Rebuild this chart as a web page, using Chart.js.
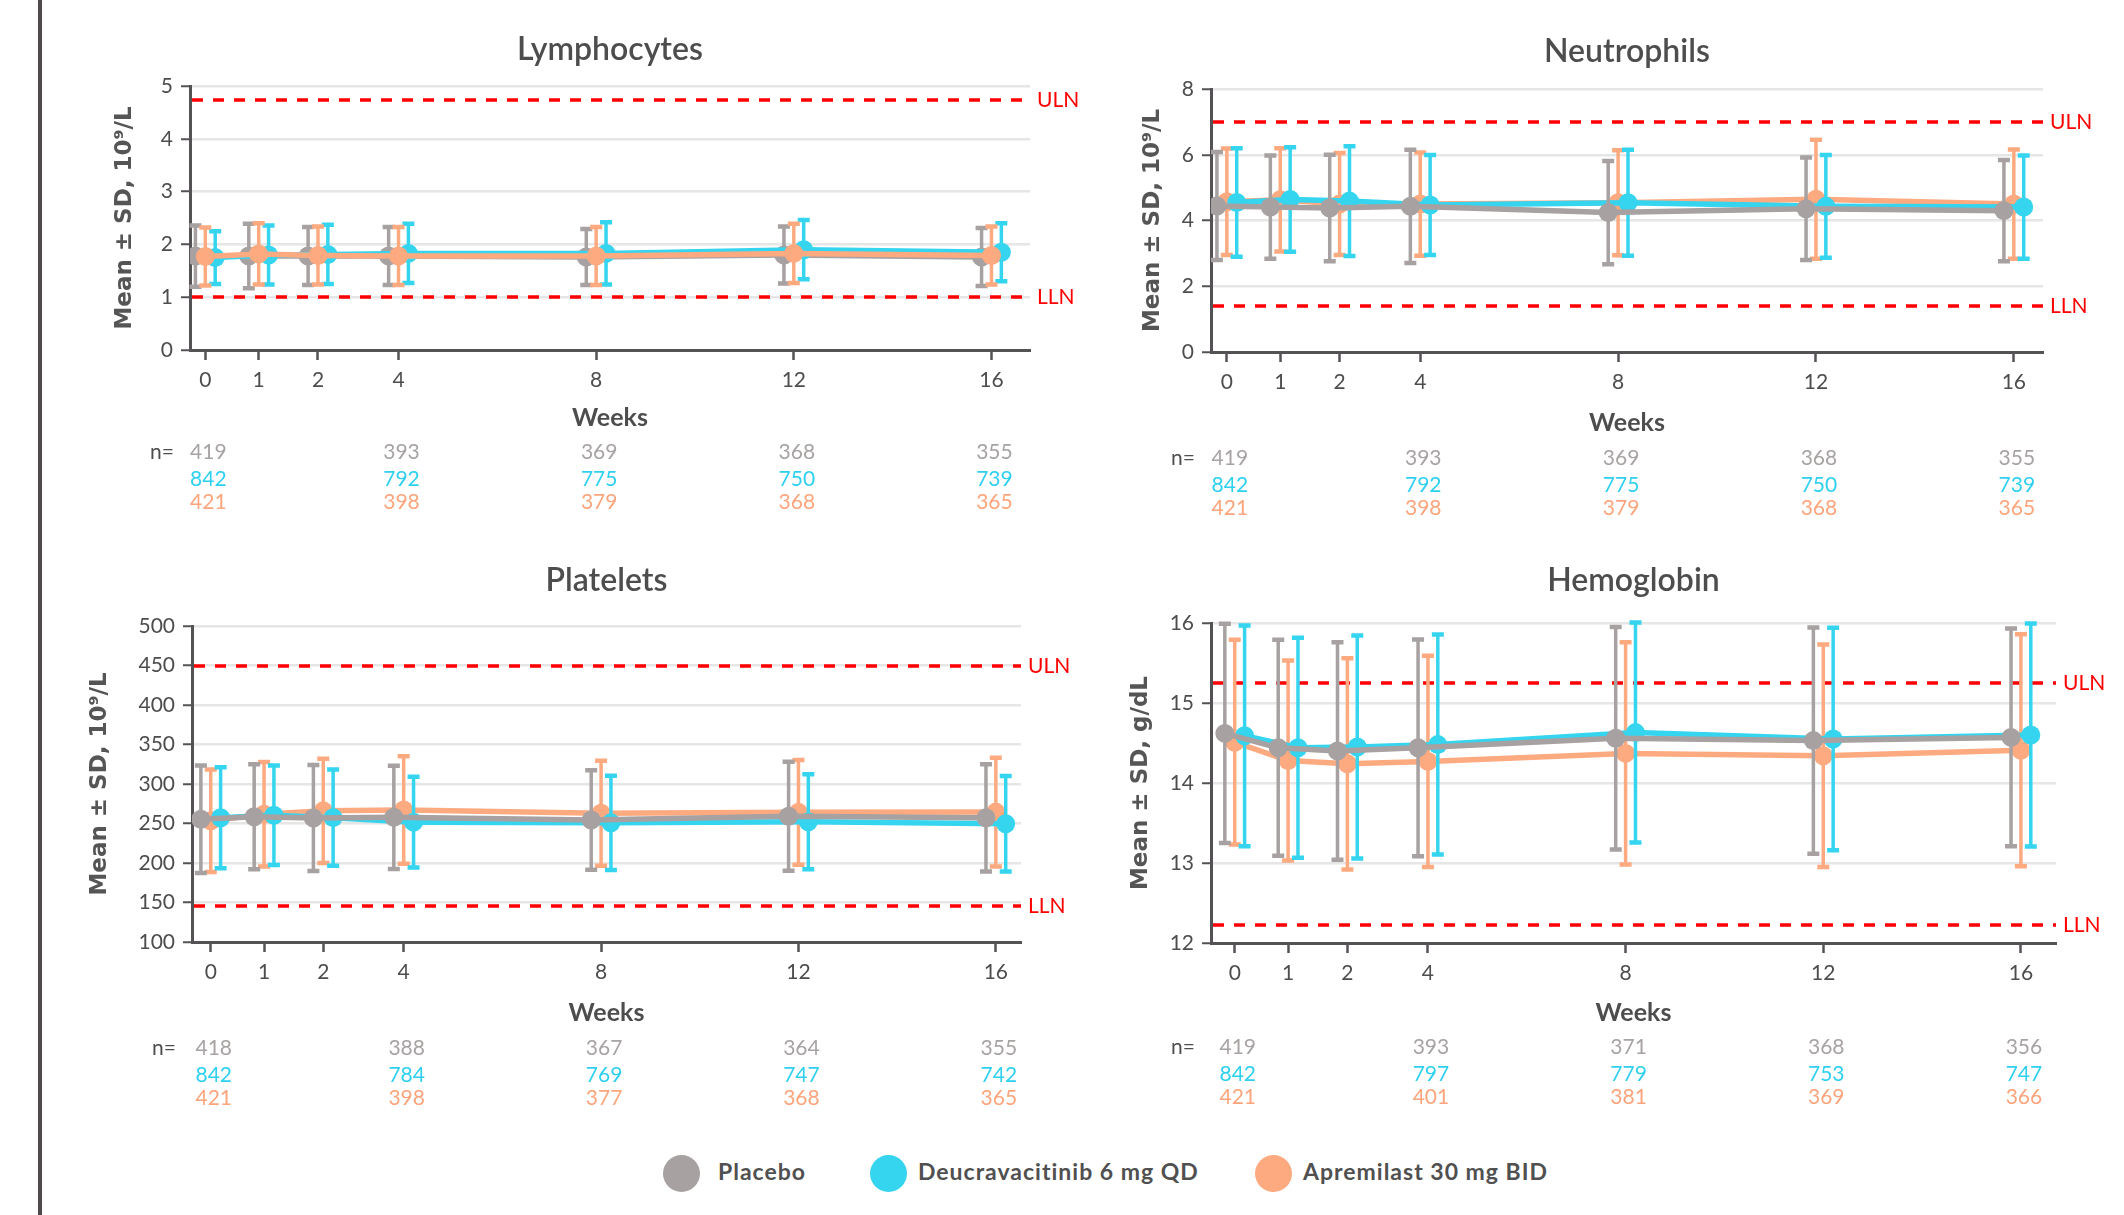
<!DOCTYPE html>
<html>
<head>
<meta charset="utf-8">
<script src="https://cdn.jsdelivr.net/npm/chart.js@4.4.1/dist/chart.umd.min.js"></script>
<style>
  html, body { margin: 0; padding: 0; background: #ffffff; }
  body { width: 2124px; height: 1215px; position: relative; overflow: hidden; font-family: Lato, "Open Sans", sans-serif; }
  .side-rule { position: absolute; left: 38px; top: 0; width: 4px; height: 1215px; background: #4f4a4d; }
  canvas { position: absolute; }
  .legend-dot { position: absolute; width: 37px; height: 37px; border-radius: 50%; }
  .legend-text { position: absolute; line-height: 37px; font: bold 23px Lato, sans-serif; color: #505050; letter-spacing: 1px; white-space: nowrap; }
</style>
</head>
<body>
<div class="side-rule"></div>
<div id="legend"></div>
<script>
// ---- visits ----
const weeks = [0, 1, 2, 4, 8, 12, 16];
// position of each visit along the week axis (early visits spread apart)
const weekPos = [0.09, 1.17, 2.37, 4, 8, 12, 16];
// visits shown in the n= rows
const nVisitIdx = [0, 3, 4, 5, 6];

// ---- treatment groups ----
const groupNames = ['Placebo', 'Deucravacitinib 6 mg QD', 'Apremilast 30 mg BID'];
const groupColors = ['#a7a1a1', '#35d4ef', '#fdaa80'];
const nColors = ['#a8a3a3', '#2fd0ef', '#fca57c'];

// ---- Lymphocytes (10^9/L) ----
const lymPlaceboMean = [1.78, 1.78, 1.78, 1.78, 1.76, 1.80, 1.76];
const lymPlaceboSD   = [0.58, 0.61, 0.55, 0.55, 0.53, 0.54, 0.55];
const lymDeucraMean  = [1.75, 1.80, 1.81, 1.83, 1.83, 1.90, 1.85];
const lymDeucraSD    = [0.50, 0.56, 0.56, 0.56, 0.59, 0.56, 0.55];
const lymApremMean   = [1.77, 1.82, 1.79, 1.78, 1.78, 1.83, 1.79];
const lymApremSD     = [0.55, 0.58, 0.55, 0.55, 0.55, 0.56, 0.55];
const lymN = [[419, 393, 369, 368, 355], [842, 792, 775, 750, 739], [421, 398, 379, 368, 365]];

// ---- Neutrophils (10^9/L) ----
const neuPlaceboMean = [4.44, 4.41, 4.38, 4.43, 4.24, 4.36, 4.30];
const neuPlaceboSD   = [1.64, 1.57, 1.62, 1.72, 1.57, 1.56, 1.54];
const neuDeucraMean  = [4.55, 4.64, 4.59, 4.47, 4.54, 4.43, 4.41];
const neuDeucraSD    = [1.65, 1.59, 1.67, 1.52, 1.61, 1.56, 1.57];
const neuApremMean   = [4.57, 4.63, 4.50, 4.50, 4.54, 4.65, 4.50];
const neuApremSD     = [1.62, 1.57, 1.55, 1.57, 1.60, 1.81, 1.66];
const neuN = [[419, 393, 369, 368, 355], [842, 792, 775, 750, 739], [421, 398, 379, 368, 365]];

// ---- Platelets (10^9/L) ----
const pltPlaceboMean = [255.4, 258.5, 257.0, 257.8, 254.4, 259.2, 257.2];
const pltPlaceboSD   = [67.9, 66.5, 67.0, 65.4, 63.0, 69.0, 67.9];
const pltDeucraMean  = [257.2, 260.5, 257.4, 251.7, 250.8, 252.2, 249.7];
const pltDeucraSD    = [63.9, 63.0, 61.0, 57.5, 59.8, 60.2, 60.4];
const pltApremMean   = [253.5, 261.7, 266.0, 267.0, 263.0, 264.1, 264.4];
const pltApremSD     = [64.8, 66.0, 66.0, 68.0, 66.5, 66.3, 68.8];
const pltN = [[418, 388, 367, 364, 355], [842, 784, 769, 747, 742], [421, 398, 377, 368, 365]];

// ---- Hemoglobin (g/dL) ----
const hgbPlaceboMean = [14.62, 14.44, 14.40, 14.44, 14.56, 14.53, 14.57];
const hgbPlaceboSD   = [1.37, 1.35, 1.36, 1.355, 1.39, 1.415, 1.36];
const hgbDeucraMean  = [14.59, 14.44, 14.45, 14.48, 14.63, 14.55, 14.60];
const hgbDeucraSD    = [1.38, 1.375, 1.395, 1.375, 1.375, 1.39, 1.395];
const hgbApremMean   = [14.51, 14.28, 14.24, 14.27, 14.37, 14.34, 14.41];
const hgbApremSD     = [1.28, 1.25, 1.32, 1.32, 1.39, 1.39, 1.45];
const hgbN = [[419, 393, 371, 368, 356], [842, 797, 779, 753, 747], [421, 401, 381, 369, 366]];

// ---- normal range limits ----
const refLimits = {
  lym: { uln: 4.74, lln: 1.0 },
  neu: { uln: 7.0, lln: 1.4 },
  plt: { uln: 450, lln: 145 },
  hgb: { uln: 15.25, lln: 12.23 }
};

// ---- panel contents ----
const panels = [
  { key: 'lym', title: 'Lymphocytes', yTitle: 'Mean \u00b1 SD, 10\u2079/L', yMin: 0, yMax: 5, yStep: 1,
    mean: [lymPlaceboMean, lymDeucraMean, lymApremMean], sd: [lymPlaceboSD, lymDeucraSD, lymApremSD], n: lymN, order: [2, 1, 0] },
  { key: 'neu', title: 'Neutrophils', yTitle: 'Mean \u00b1 SD, 10\u2079/L', yMin: 0, yMax: 8, yStep: 2,
    mean: [neuPlaceboMean, neuDeucraMean, neuApremMean], sd: [neuPlaceboSD, neuDeucraSD, neuApremSD], n: neuN, order: [0, 1, 2] },
  { key: 'plt', title: 'Platelets', yTitle: 'Mean \u00b1 SD, 10\u2079/L', yMin: 100, yMax: 500, yStep: 50,
    mean: [pltPlaceboMean, pltDeucraMean, pltApremMean], sd: [pltPlaceboSD, pltDeucraSD, pltApremSD], n: pltN, order: [0, 1, 2] },
  { key: 'hgb', title: 'Hemoglobin', yTitle: 'Mean \u00b1 SD, g/dL', yMin: 12, yMax: 16, yStep: 1,
    mean: [hgbPlaceboMean, hgbDeucraMean, hgbApremMean], sd: [hgbPlaceboSD, hgbDeucraSD, hgbApremSD], n: hgbN, order: [0, 1, 2] }
];

// ---- panel placement on the page ----
const panelLayout = [
  { left: 190,  right: 1030, top: 86,  bottom: 350, xMin: -0.22, xMax: 16.78, titleY: 50,  yTitleX: 125,  weeksY: 418,  nY: 452 },
  { left: 1211, right: 2043, top: 89,  bottom: 352, xMin: -0.23, xMax: 16.59, titleY: 52,  yTitleX: 1153, weeksY: 423,  nY: 458 },
  { left: 192,  right: 1021, top: 626, bottom: 942, xMin: -0.29, xMax: 16.51, titleY: 581, yTitleX: 100,  weeksY: 1013, nY: 1048 },
  { left: 1211, right: 2056, top: 623, bottom: 943, xMin: -0.39, xMax: 16.71, titleY: 581, yTitleX: 1141, weeksY: 1013, nY: 1047 }
];

const groupOffset = [-0.2, 0.2, 0];   // side-by-side placement of the three groups at a visit
const Y_AXIS_W = 120, PAD_TOP = 80, PAD_RIGHT = 90, X_AXIS_H = 185;
const TEXT = '#4d4d4d', AXIS = '#545254';

// error bars drawn just beneath each group's line
const errorBarPlugin = {
  id: 'errorBars',
  beforeDatasetDraw(chart, args) {
    const ds = chart.data.datasets[args.index];
    if (!ds.sd) return;
    const ys = chart.scales.y, ctx = chart.ctx;
    ctx.save();
    ctx.strokeStyle = ds.borderColor;
    ctx.lineCap = 'butt';
    args.meta.data.forEach((pt, i) => {
      const m = ds.data[i].y, s = ds.sd[i];
      const yt = ys.getPixelForValue(m + s), yb = ys.getPixelForValue(m - s);
      ctx.lineWidth = 3.5;
      ctx.beginPath(); ctx.moveTo(pt.x, yt); ctx.lineTo(pt.x, yb); ctx.stroke();
      ctx.lineWidth = 4.5;
      ctx.beginPath();
      ctx.moveTo(pt.x - 6, yt); ctx.lineTo(pt.x + 6, yt);
      ctx.moveTo(pt.x - 6, yb); ctx.lineTo(pt.x + 6, yb);
      ctx.stroke();
    });
    ctx.restore();
  }
};

// panel title, normal-range lines, "Weeks" and the n= table
const panelDecorPlugin = {
  id: 'panelDecor',
  beforeDatasetsDraw(chart, args, opts) {
    const ctx = chart.ctx, ys = chart.scales.y, a = chart.chartArea;
    ctx.save();
    ctx.strokeStyle = '#ff0000';
    ctx.lineWidth = 3.5;
    ctx.setLineDash([11, 10]);
    ctx.fillStyle = '#ff0000';
    ctx.font = '21px Lato, sans-serif';
    ctx.textBaseline = 'middle';
    ctx.textAlign = 'left';
    [['ULN', opts.uln], ['LLN', opts.lln]].forEach(([lab, v]) => {
      const y = Math.round(ys.getPixelForValue(v));
      ctx.beginPath(); ctx.moveTo(a.left + 2, y); ctx.lineTo(a.right, y); ctx.stroke();
      ctx.fillText(lab, a.right + 7, y);
    });
    ctx.restore();
  },
  afterDraw(chart, args, opts) {
    const ctx = chart.ctx, a = chart.chartArea, xs = chart.scales.x;
    const cx = (a.left + a.right) / 2;
    ctx.save();
    ctx.textAlign = 'center';
    ctx.textBaseline = 'middle';
    ctx.fillStyle = TEXT;
    ctx.font = '600 32px Lato, sans-serif';
    ctx.fillText(opts.title, cx, opts.titleY);
    ctx.font = 'bold 25px Lato, sans-serif';
    ctx.fillText('Weeks', cx, opts.weeksY);
    ctx.font = '21px Lato, sans-serif';
    ctx.fillText('n=', a.left - 28, opts.nY);
    const rowGap = [0, 27.5, 50];
    opts.n.forEach((row, g) => {
      ctx.fillStyle = nColors[g];
      row.forEach((val, j) => {
        const x = xs.getPixelForValue(weekPos[nVisitIdx[j]]) + 3;
        ctx.fillText(String(val), x, opts.nY + rowGap[g]);
      });
    });
    ctx.restore();
  }
};

panels.forEach((p, idx) => {
  const L = panelLayout[idx];
  const w = (L.right - L.left) + Y_AXIS_W + PAD_RIGHT;
  const h = PAD_TOP + (L.bottom - L.top) + X_AXIS_H;
  const cv = document.createElement('canvas');
  cv.width = w; cv.height = h;
  cv.style.left = (L.left - Y_AXIS_W) + 'px';
  cv.style.top = (L.top - PAD_TOP) + 'px';
  cv.style.width = w + 'px'; cv.style.height = h + 'px';
  document.body.appendChild(cv);

  // page coordinates -> canvas coordinates
  const ox = L.left - Y_AXIS_W, oy = L.top - PAD_TOP;
  const yTitleFont = 23, yTitleLH = yTitleFont * 1.2;
  const yTitlePad = (L.yTitleX - ox) - yTitleLH / 2;

  const datasets = groupNames.map((name, g) => ({
    label: name,
    data: p.mean[g].map((m, i) => ({ x: weekPos[i] + groupOffset[g], y: m })),
    sd: p.sd[g],
    borderColor: groupColors[g],
    backgroundColor: groupColors[g],
    pointBackgroundColor: groupColors[g],
    pointBorderWidth: 0,
    pointRadius: 9.5,
    borderWidth: 5.5,
    tension: 0,
    order: p.order[g]
  }));

  new Chart(cv, {
    type: 'line',
    data: { datasets },
    plugins: [errorBarPlugin, panelDecorPlugin],
    options: {
      responsive: false,
      animation: false,
      devicePixelRatio: 1,
      layout: { padding: { left: 0, top: PAD_TOP, right: PAD_RIGHT, bottom: 0 } },
      plugins: {
        legend: { display: false },
        tooltip: { enabled: false },
        panelDecor: {
          title: p.title,
          uln: refLimits[p.key].uln, lln: refLimits[p.key].lln,
          n: p.n,
          titleY: L.titleY - oy, weeksY: L.weeksY - oy, nY: L.nY - oy
        }
      },
      scales: {
        x: {
          type: 'linear', min: L.xMin, max: L.xMax,
          afterBuildTicks: (s) => { s.ticks = weekPos.map(v => ({ value: v })); },
          afterFit: (s) => { s.height = X_AXIS_H; },
          ticks: { autoSkip: false, maxRotation: 0, padding: 8, color: TEXT,
                   font: { family: 'Lato', size: 21 },
                   callback: (v, i) => String(weeks[i]) },
          grid: { drawOnChartArea: false, tickColor: AXIS, tickLength: 10, tickWidth: 2.5 },
          border: { color: AXIS, width: 3 }
        },
        y: {
          min: p.yMin, max: p.yMax,
          afterFit: (s) => { s.width = Y_AXIS_W; },
          ticks: { stepSize: p.yStep, padding: 8, color: TEXT, font: { family: 'Lato', size: 21 } },
          grid: { color: '#e6e6e6', lineWidth: 2.5, tickColor: AXIS, tickLength: 9, tickWidth: 2 },
          border: { color: AXIS, width: 3 },
          title: { display: true, text: p.yTitle, color: '#555555',
                   font: { family: 'DejaVu Sans', weight: 'bold', size: yTitleFont },
                   padding: { top: yTitlePad, bottom: 0 } }
        }
      }
    }
  });
});

// legend
const legendX = [{ dot: 663, text: 718 }, { dot: 870, text: 918 }, { dot: 1255, text: 1303 }];
const legendEl = document.getElementById('legend');
groupNames.forEach((name, g) => {
  const dot = document.createElement('div');
  dot.className = 'legend-dot';
  dot.style.left = legendX[g].dot + 'px';
  dot.style.top = '1155px';
  dot.style.background = groupColors[g];
  legendEl.appendChild(dot);
  const txt = document.createElement('div');
  txt.className = 'legend-text';
  txt.style.left = legendX[g].text + 'px';
  txt.style.top = '1157px';
  txt.textContent = name;
  legendEl.appendChild(txt);
});
</script>
</body>
</html>
